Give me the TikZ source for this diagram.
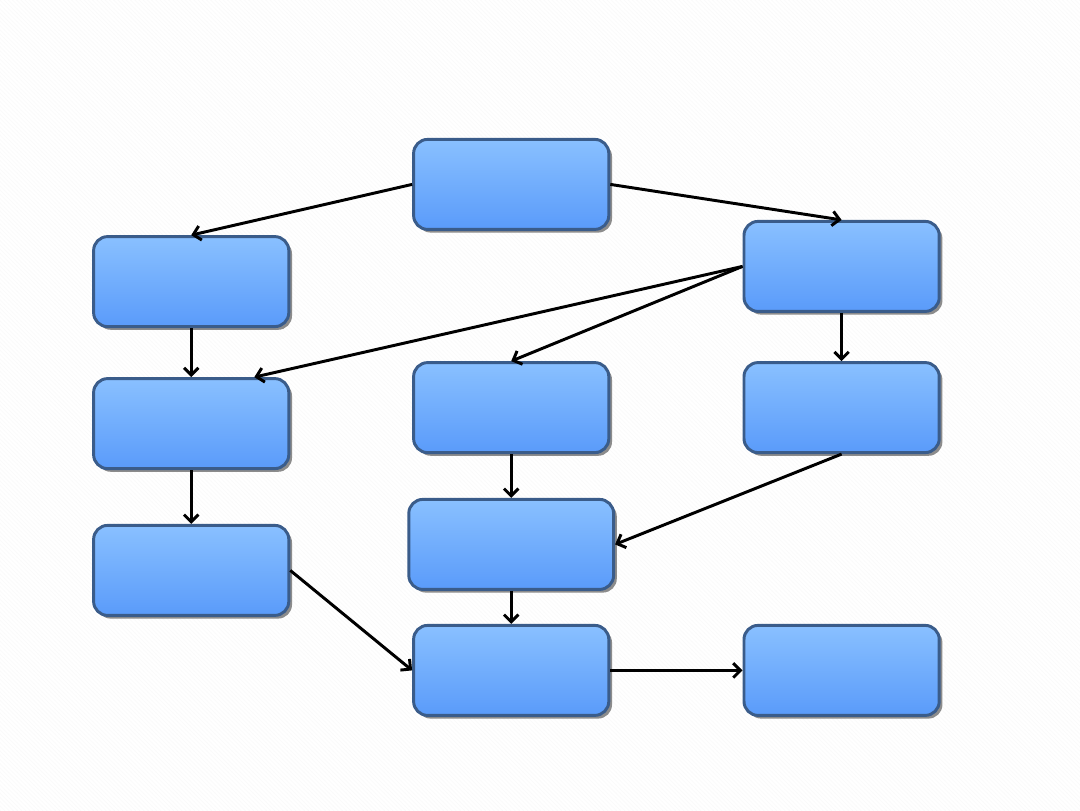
\documentclass[tikz,border=0pt]{standalone}
\usetikzlibrary{arrows.meta,shadows,patterns}

\definecolor{boxtop}{RGB}{137,192,255}
\definecolor{boxbot}{RGB}{90,155,250}
\definecolor{boxline}{RGB}{58,92,138}

\tikzset{
	box/.style={draw=boxline, line width=2.1pt, rounded corners=0.35cm,
		top color=boxtop, bottom color=boxbot,
		minimum width=4.88cm, minimum height=2.25cm,
		drop shadow={shadow xshift=0.08cm, shadow yshift=-0.08cm, fill=black!45, opacity=1}},
	link/.style={line width=2.1pt, -{Straight Barb[length=1.8mm, width=3.6mm]}}
}

\begin{document}
\begin{tikzpicture}
	\useasboundingbox (0,0) rectangle (27,20.25);
	\fill[white] (0,0) rectangle (27,20.25);
	\fill[pattern=north west lines, pattern color=black!2] (0,0) rectangle (27,20.25);

	\node[box] (top) at (12.78, 15.64) {};
	\node[box] (right) at (21.04, 13.59) {};
	\node[box] (left) at (4.78, 13.21) {};
	\node[box] (left2) at (4.78, 9.66) {};
	\node[box] (mid) at (12.78, 10.06) {};
	\node[box] (right2) at (21.04, 10.06) {};
	\node[box, minimum width=5.12cm] (mid2) at (12.78, 6.64) {};
	\node[box] (left3) at (4.78, 5.99) {};
	\node[box] (bot) at (12.78, 3.49) {};
	\node[box] (botright) at (21.04, 3.49) {};

	\draw[link] (top.west) -- (left.north);
	\draw[link] (top.east) -- (right.north);
	\draw[link] (right.west) -- ([xshift=-0.9cm]left2.north east);
	\draw[link] (right.west) -- (mid.north);
	\draw[link] (right.south) -- (right2.north);
	\draw[link] (left.south) -- (left2.north);
	\draw[link] (left2.south) -- (left3.north);
	\draw[link] (mid.south) -- (mid2.north);
	\draw[link] (right2.south) -- (mid2.east);
	\draw[link] (mid2.south) -- (bot.north);
	\draw[link] (left3.east) -- (bot.west);
	\draw[link] (bot.east) -- (botright.west);
\end{tikzpicture}
\end{document}
